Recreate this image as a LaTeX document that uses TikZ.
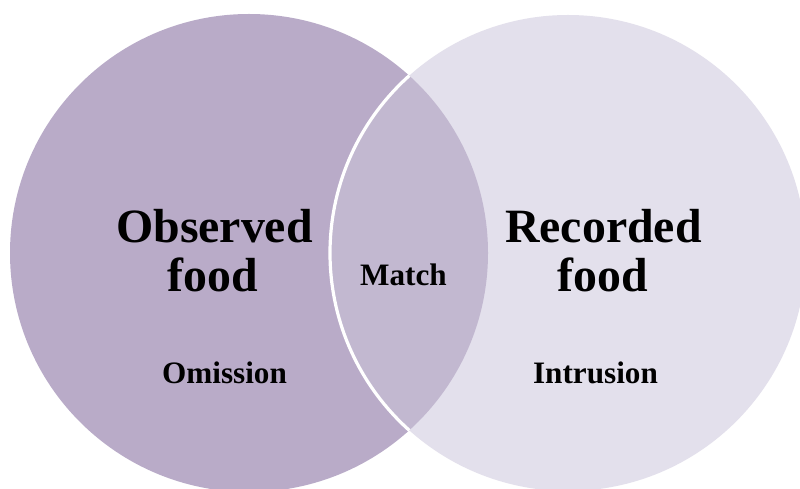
\documentclass[tikz,border=0pt]{standalone}
\usepackage{fontspec}
\setmainfont{Liberation Serif}
\definecolor{leftfill}{HTML}{B9ABC8}
\definecolor{rightfill}{HTML}{E3E0EC}
\definecolor{overlapfill}{HTML}{C2B8D0}
\begin{document}
\begin{tikzpicture}[x=1bp,y=-1bp,
  bigtext/.style={font=\bfseries\fontsize{48}{50}\selectfont, inner sep=0pt, anchor=base},
  smalltext/.style={font=\bfseries\fontsize{31.3}{33}\selectfont, inner sep=0pt, anchor=base}]
\useasboundingbox (0,0) rectangle (800,489);
\clip (0,0) rectangle (800,489);
\fill[white] (0,0) rectangle (800,489);
% circles
\fill[leftfill] (249,253) circle[radius=239];
\fill[rightfill] (568,253) circle[radius=238];
\begin{scope}
  \clip (249,253) circle[radius=239];
  \fill[overlapfill] (568,253) circle[radius=238];
  \draw[white, line width=3.2bp] (568,253) circle[radius=238];
\end{scope}
% labels
\node[bigtext] (obs1) at (214.5,243) {Observed};
\node[bigtext] (obs2) at (213,292) {food};
\node[bigtext] (rec1) at (603.5,243) {Recorded};
\node[bigtext] (rec2) at (603,292) {food};
\node[smalltext] (match) at (403.5,286) {Match};
\node[smalltext] (omis) at (224.5,383) {Omission};
\node[smalltext] (intr) at (595.5,383) {Intrusion};
\end{tikzpicture}
\end{document}
